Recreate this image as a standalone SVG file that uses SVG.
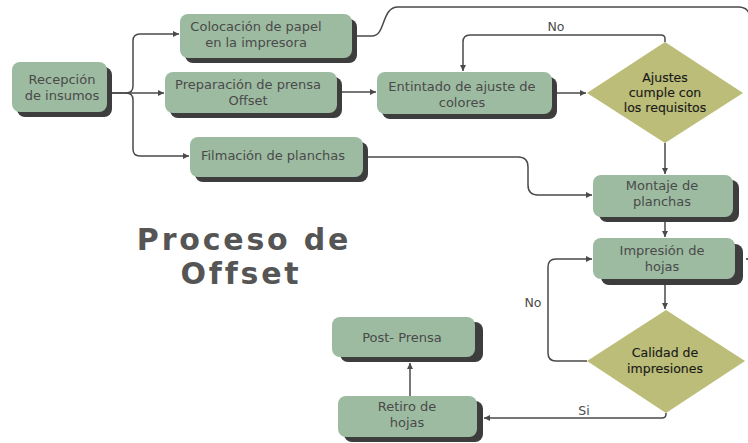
<svg xmlns="http://www.w3.org/2000/svg" width="748" height="443" viewBox="0 0 748 443">
<defs>
<marker id="arr" markerUnits="userSpaceOnUse" markerWidth="7" markerHeight="7" refX="6" refY="3" orient="auto">
<path d="M0,0 L6,3 L0,6 z" fill="#4a4a4a"/>
</marker>
</defs>
<style>
.sh{fill:#3d3d3d}
.box{fill:#9dbba1}
.dia{fill:#bcbd78}
.t{font-family:"DejaVu Sans",sans-serif;font-size:13px;fill:#4a4a4a;text-anchor:middle}
.dt{font-family:"DejaVu Sans",sans-serif;font-size:12.5px;fill:#1a1a1a;stroke:#1a1a1a;stroke-width:0.15;text-anchor:middle}
.lbl{font-family:"DejaVu Sans",sans-serif;font-size:12.5px;fill:#4a4a4a;text-anchor:middle}
.title{font-family:"DejaVu Sans",sans-serif;font-size:30px;font-weight:bold;fill:#555555;text-anchor:middle;letter-spacing:2.8px}
.c{fill:none;stroke:#4a4a4a;stroke-width:1.5}
</style>
<rect width="748" height="443" fill="#ffffff"/>

<g id="connectors">
<path class="c" d="M107,93 H126 Q133,93 133,86 V41 Q133,34 140,34 H179" marker-end="url(#arr)"/>
<path class="c" d="M107,93 H164" marker-end="url(#arr)"/>
<path class="c" d="M126,93 Q133,93 133,100 V149 Q133,156 140,156 H189" marker-end="url(#arr)"/>
<path class="c" d="M352,36 H372 C386,36 381,7 398,7 H738 Q750,7 750,19 V259 H746" marker-end="url(#arr)"/>
<path class="c" d="M337,92 H376" marker-end="url(#arr)"/>
<path class="c" d="M552,93 H586" marker-end="url(#arr)"/>
<path class="c" d="M665,42 V39 Q665,35 661,35 H470 Q463,35 463,42 V71" marker-end="url(#arr)"/>
<path class="c" d="M665,143 V174" marker-end="url(#arr)"/>
<path class="c" d="M363,157 H518 Q528,157 528,167 V185 Q528,195 538,195 H592" marker-end="url(#arr)"/>
<path class="c" d="M665,222 V237" marker-end="url(#arr)"/>
<path class="c" d="M665,285 V309" marker-end="url(#arr)"/>
<path class="c" d="M587,361 H556 Q548,361 548,353 V267 Q548,259 556,259 H592" marker-end="url(#arr)"/>
<path class="c" d="M666,413 V414 Q666,418 662,418 H484" marker-end="url(#arr)"/>
<path class="c" d="M410,396 V363" marker-end="url(#arr)"/>
<text class="lbl" x="556" y="31">No</text>
<text class="lbl" x="533" y="307">No</text>
<text class="lbl" x="584" y="415">Si</text>
</g>

<g id="title">
<text class="title" x="244" y="250">Proceso de</text>
<text class="title" x="241" y="284">Offset</text>
</g>

<g id="recepcion">
<rect class="sh" x="17" y="67" width="95" height="50" rx="8"/>
<rect class="box" x="12" y="62" width="95" height="50" rx="8"/>
<text class="t" x="62" y="84">Recepción</text>
<text class="t" x="62" y="100">de insumos</text>
</g>

<g id="colocacion">
<rect class="sh" x="185" y="19" width="172" height="44" rx="8"/>
<rect class="box" x="180" y="14" width="172" height="44" rx="8"/>
<text class="t" x="256" y="31">Colocación de papel</text>
<text class="t" x="256" y="47">en la impresora</text>
</g>

<g id="preparacion">
<rect class="sh" x="170" y="77" width="172" height="41" rx="8"/>
<rect class="box" x="165" y="72" width="172" height="41" rx="8"/>
<text class="t" x="248" y="89">Preparación de prensa</text>
<text class="t" x="248" y="105">Offset</text>
</g>

<g id="filmacion">
<rect class="sh" x="195" y="142" width="173" height="40" rx="8"/>
<rect class="box" x="190" y="137" width="173" height="40" rx="8"/>
<text class="t" x="273" y="160">Filmación de planchas</text>
</g>

<g id="entintado">
<rect class="sh" x="382" y="77" width="175" height="42" rx="8"/>
<rect class="box" x="377" y="72" width="175" height="42" rx="8"/>
<text class="t" x="462" y="91">Entintado de ajuste de</text>
<text class="t" x="462" y="107">colores</text>
</g>

<g id="ajustes">
<polygon class="dia" points="665,42 743,93 665,143 587,93"/>
<text class="dt" x="665" y="82">Ajustes</text>
<text class="dt" x="665" y="97">cumple con</text>
<text class="dt" x="665" y="112">los requisitos</text>
</g>

<g id="montaje">
<rect class="sh" x="599" y="180" width="140" height="42" rx="8"/>
<rect class="box" x="593" y="175" width="140" height="42" rx="8"/>
<text class="t" x="662" y="190">Montaje de</text>
<text class="t" x="662" y="206">planchas</text>
</g>

<g id="impresion">
<rect class="sh" x="601" y="244" width="142" height="41" rx="8"/>
<rect class="box" x="593" y="238" width="142" height="41" rx="8"/>
<text class="t" x="662" y="255">Impresión de</text>
<text class="t" x="662" y="271">hojas</text>
</g>

<g id="calidad">
<polygon class="dia" points="666,310 745,361 666,413 587,361"/>
<text class="dt" x="665" y="357">Calidad de</text>
<text class="dt" x="665" y="373">impresiones</text>
</g>

<g id="postprensa">
<rect class="sh" x="340" y="322" width="143" height="40" rx="8"/>
<rect class="box" x="332" y="317" width="143" height="40" rx="8"/>
<text class="t" x="402" y="342">Post- Prensa</text>
</g>

<g id="retiro">
<rect class="sh" x="344" y="401" width="139" height="41" rx="8"/>
<rect class="box" x="338" y="396" width="139" height="41" rx="8"/>
<text class="t" x="407" y="411">Retiro de</text>
<text class="t" x="407" y="427">hojas</text>
</g>
</svg>
